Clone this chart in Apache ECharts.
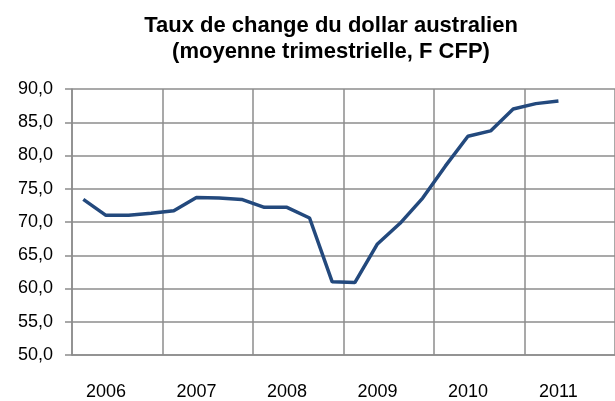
<!DOCTYPE html>
<html>
<head>
<meta charset="utf-8">
<script src="https://cdn.jsdelivr.net/npm/echarts@6/dist/echarts.min.js"></script>
<style>
  html, body { margin: 0; padding: 0; background: #fff; }
  #chart { width: 615px; height: 401px; }
</style>
</head>
<body>
<div id="chart"></div>
<script>
// trimestres 2006T1 .. 2011T4 (valeurs jusqu'à 2011T2)
let years = ['2006', '2007', '2008', '2009', '2010', '2011'];
let quarters = [];
for (let i = 0; i < years.length; i++) {
    for (let q = 1; q <= 4; q++) {
        quarters.push(years[i] + 'T' + q);
    }
}
let taux = [73.4, 71.0, 71.0, 71.3,
    71.7, 73.7, 73.6, 73.4,
    72.2, 72.2, 70.6, 61.0,
    60.9, 66.7, 69.8, 73.6,
    78.4, 82.9, 83.7, 87.0,
    87.8, 88.2];

let gridColor = '#8c8c8c';

let chart = echarts.init(document.getElementById('chart'));
chart.setOption({
    animation: false,
    title: {
        text: 'Taux de change du dollar australien\n(moyenne trimestrielle, F CFP)',
        left: 326,
        top: 8,
        textAlign: 'center',
        textStyle: {
            fontFamily: 'Liberation Sans',
            fontWeight: 'bold',
            fontSize: 22,
            lineHeight: 26,
            color: '#000'
        }
    },
    grid: {left: 72, top: 89, width: 548, height: 268},
    xAxis: {
        type: 'category',
        data: quarters,
        boundaryGap: true,
        axisLine: {lineStyle: {color: gridColor, width: 1.5}},
        axisTick: {
            length: 7,
            interval: function (index) { return index % 4 === 0; },
            lineStyle: {color: gridColor, width: 1.5}
        },
        axisLabel: {
            interval: function (index) { return index % 4 === 1; },
            formatter: function (v) { return v.slice(0, 4); },
            margin: 28,
            fontFamily: 'Liberation Sans',
            fontSize: 18,
            color: '#000'
        },
        splitLine: {
            show: true,
            interval: function (index) { return index % 4 === 0; },
            lineStyle: {color: gridColor, width: 1.5}
        }
    },
    yAxis: {
        type: 'value',
        min: 50,
        max: 90,
        interval: 5,
        axisLine: {show: true, lineStyle: {color: gridColor, width: 1.5}},
        axisTick: {show: true, length: 7, lineStyle: {color: gridColor, width: 1.5}},
        axisLabel: {
            formatter: function (v) { return v.toFixed(1).replace('.', ','); },
            margin: 19,
            fontFamily: 'Liberation Sans',
            fontSize: 18,
            color: '#000'
        },
        splitLine: {lineStyle: {color: gridColor, width: 1.5}}
    },
    series: [{
        type: 'line',
        data: taux,
        symbol: 'none',
        lineStyle: {color: '#23497d', width: 3.5},
        itemStyle: {color: '#23497d'}
    }]
});
</script>
</body>
</html>
